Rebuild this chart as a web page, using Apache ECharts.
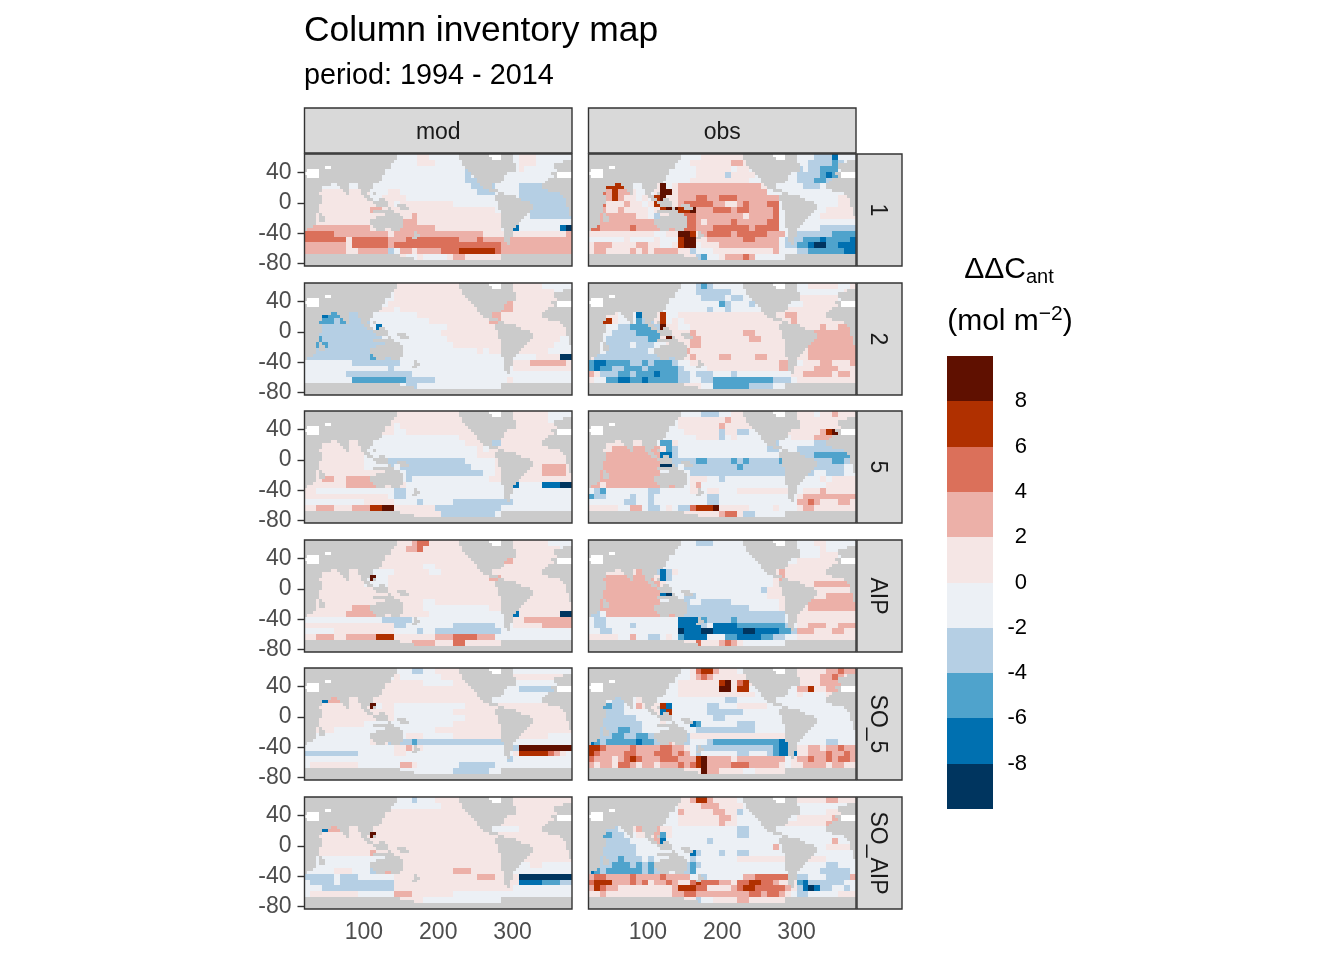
<!DOCTYPE html>
<html>
<head>
<meta charset="utf-8">
<title>Column inventory map</title>
<script src="https://cdn.jsdelivr.net/npm/echarts@6/dist/echarts.min.js"></script>
<style>
html, body { margin: 0; padding: 0; background: #fff; }
#chart { width: 1344px; height: 960px; }
</style>
</head>
<body>
<div id="chart"></div>
<script>
// facets
var dataSources = ['mod', 'obs'];
var basins = ['1', '2', '5', 'AIP', 'SO_5', 'SO_AIP'];

// tick labels
var lonTicks = [100, 200, 300];
var latTicks = [-80, -40, 0, 40];
var legendTicks = [-8, -6, -4, -2, 0, 2, 4, 6, 8];

// colour bins, low to high, and the middle value of each bin
var binValues = [-9, -7, -5, -3, -1, 1, 3, 5, 7, 9];
var binColors = ['#00355f', '#0070b0', '#4fa3cc', '#b5cfe4', '#ecf0f5',
  '#f5e6e5', '#ecb0a8', '#db705a', '#b03000', '#5f1000'];

// ocean grid: 8 degree columns from 20E, rows from the top
var lonStart = 20, lonStep = 8, latTop = 64, latStep = 147 / 19;

// land grid is twice as fine. Each row lists column runs of land, w = no data
var landRuns = [
  "0-30 52-61 w62-65 66-69",
  "0-30 52-62 w63-65 66-69",
  "0-29 53-69 87-89",
  "0-28 53-70 84-89",
  "0-28 w7-8 54-70 84-89",
  "0-26 w1-4 55-70 85-89",
  "5-26 w0-4 56-67 83-84 w85-89",
  "0 5-25 w1-4 57-66 84 w85-89",
  "0-25 58-66 82-89",
  "0-24 58-65 81-89",
  "0-8 11-14 18-22 59-62 80-89",
  "0-5 12-14 18-22 60-62 80-89",
  "0-5 13-14 19-21 62-64 82-89",
  "0-4 14 19-20 23 65-66 86-89",
  "0-5 20-21 64-70 87-89",
  "0-5 21-22 25-26 64-72 88-89",
  "0-5 23-27 65-75 88-89",
  "0-4 24-27 31-33 65-76 88-89",
  "0-4 28 32-34 65-76 89",
  "0-4 23-29 66-75 89",
  "0-3 5 27-31 66-74 89",
  "0-3 5-6 24-32 66-73",
  "0-3 5-6 22-32 66-72",
  "0-3 22-32 66-71",
  "0-2 23-32 66-70",
  "0 24-26 29-31 67-69",
  "37 67-69",
  "37-38 67-69",
  "36-37 67-68",
  "67-68",
  "68",
  "",
  "",
  "",
  "0-31 66-89",
  "0-36 66-89",
  "0-89",
  "0-89"
];

// ocean values per panel as bin index 0-9, land is drawn over them
var mod1 = [
  "44444 44444 44444 44445 54444 44444 44444 45554 44444",
  "44444 44444 44444 44445 55444 44444 44444 45554 44444",
  "44444 44444 44444 44444 44444 44344 44444 45444 44444",
  "44444 44444 44444 44444 44444 44344 44444 44444 44444",
  "44444 44444 44444 44444 44444 44333 44444 44444 44444",
  "44444 44444 44444 44444 44444 44433 33444 43333 33334",
  "55555 55555 54445 54444 44444 44443 33444 43333 33333",
  "55555 55555 54455 55444 44444 44444 44444 43333 33334",
  "55555 55555 55455 45555 55555 44444 44444 44333 33333",
  "55555 55555 56655 55555 55555 55555 55444 44333 33333",
  "55555 55555 55555 55565 55555 55555 55544 44433 33333",
  "65555 55555 55555 56665 55555 55555 55544 44444 44444",
  "66666 66666 65555 56666 66555 55555 55544 14444 44410",
  "77777 66666 66665 66666 66666 66666 55555 55555 55556",
  "77777 77577 77776 66777 77777 76667 66666 66666 66666",
  "66666 66577 77776 77777 77777 77777 77766 66666 66666",
  "66666 66556 66663 46656 66677 78888 88766 66666 66666",
  "55555 55555 55555 55445 44445 66555 55555 55555 55555"
];
var obs1 = [
  "44444 44444 44444 44445 55555 55444 44444 44433 31444",
  "44444 44444 44444 44555 55556 65444 44444 44333 32344",
  "44444 44444 44444 44455 55554 55444 44444 34332 22444",
  "44444 44444 44444 44455 55535 55544 44444 33332 12344",
  "44444 44444 44444 44555 55555 55444 44444 33322 33444",
  "45688 84444 45945 66666 66666 66665 44444 43334 44444",
  "45768 66544 45995 66666 66666 66666 44444 44444 44444",
  "55768 65545 48955 66677 66777 66666 66444 44444 44554",
  "55755 56554 58955 67777 76655 67666 77444 44444 44555",
  "57655 65555 45899 88966 67776 77666 67444 44444 55555",
  "57666 66655 43555 57766 66666 65666 67444 44445 55555",
  "77666 66666 66666 67765 66667 66666 77444 44444 44444",
  "77666 66766 66666 87766 67777 77677 77444 44443 33333",
  "55555 55555 54455 99856 77776 77777 66644 33333 32222",
  "44444 45444 45444 89955 66666 67766 66433 32221 22221",
  "56665 55566 55445 89945 55666 66666 66433 22100 22111",
  "56655 55656 56666 55344 45555 55555 56444 33222 22211",
  "55555 55555 55555 55532 44566 67644 44444 44444 44444"
];
var mod2 = [
  "44444 44444 44444 55555 55555 55555 55555 55555 44444",
  "44444 44444 44444 55555 55555 55555 55555 55555 55444",
  "44444 44444 44444 55555 55555 55555 55555 55555 55555",
  "44444 44444 44445 55555 55555 55555 55566 55555 55555",
  "44444 44444 44555 45555 55555 55555 55566 55555 55555",
  "55412 22333 44444 44445 55555 55555 56655 55555 55555",
  "33222 32333 34444 44444 45555 55555 56655 55555 55555",
  "33333 33333 34144 44444 44445 55555 55555 55555 55555",
  "33333 33333 33444 44444 44455 55555 55555 55555 55554",
  "33233 33333 33344 44444 44445 55555 55555 55555 55544",
  "33223 33333 33333 44444 44444 55555 55555 45555 55444",
  "33333 33333 33333 44444 44444 44445 45555 45555 54444",
  "33333 33333 32233 34444 44444 44444 44444 44445 55500",
  "44444 44433 33333 34444 44444 44444 44444 55566 66665",
  "44444 44444 44443 44444 44444 44444 44444 55555 55555",
  "44444 44333 33333 33344 44444 44444 44444 44444 44444",
  "44444 44422 22222 22333 33444 44444 44445 44444 44444",
  "44444 44444 44444 44334 44444 44444 44444 44444 44444"
];
var obs2 = [
  "44444 44444 44444 44432 34444 44444 44444 44555 55445",
  "44444 44444 44444 44433 33334 44444 44444 44444 44455",
  "44444 44444 44444 44443 33343 34444 44445 55555 55444",
  "44444 44444 44444 44444 44234 44344 44444 45555 55555",
  "44444 44444 44444 44444 34434 44444 44555 55555 55555",
  "55555 44414 55844 55555 55555 55555 55566 55555 55555",
  "55885 44423 35845 45555 55555 55555 55556 55555 55555",
  "54444 33222 23955 44555 55555 55555 55555 55556 55666",
  "44443 33322 22955 55655 55555 56655 55555 55666 66666",
  "44433 33333 22595 55665 55555 55665 55555 56666 66666",
  "44433 33433 34455 55665 55555 55555 55555 56666 66666",
  "55433 33333 44444 56555 55555 55555 55555 45666 66666",
  "53333 33333 33333 55655 55665 55566 55555 55666 66666",
  "21122 22332 32223 44555 55555 55555 55665 45556 65556",
  "21223 32223 22222 34444 55555 55555 55665 55566 66555",
  "65333 22322 21222 33433 34443 44444 44445 56666 65665",
  "54422 11221 22222 33443 32222 22222 23334 55555 55555",
  "55555 55555 55555 55554 42222 22333 34444 55555 55555"
];
var mod5 = [
  "55555 55555 55555 55555 55555 55555 55555 55555 54444",
  "55555 55555 55555 55555 55555 55555 55555 55555 54444",
  "55555 55555 55555 45555 55555 55555 55555 55555 55555",
  "55555 55555 55555 44555 55555 55555 55555 55555 55555",
  "55555 55555 44444 44444 44444 45555 55555 55555 55555",
  "55555 55555 44444 44444 44444 44555 33355 55555 55555",
  "55555 55555 44444 44444 44444 44445 45555 55555 55555",
  "55555 55555 44444 44444 44444 44445 55555 55555 55555",
  "55555 55555 44443 33333 33333 33444 44555 55555 55555",
  "55555 55555 44443 43333 33333 33344 44555 55555 66665",
  "55555 55555 55555 44333 33333 33333 44555 55555 66665",
  "55566 55666 66555 44344 44444 44444 45555 55555 55555",
  "55555 55666 66655 55444 44444 44444 44444 14444 11100",
  "55444 44444 44444 33444 44444 44444 44444 44444 44444",
  "55555 55555 55554 33444 44444 44444 44444 44444 44444",
  "44444 44444 55555 44443 44444 33333 33333 44444 44444",
  "55666 55566 68899 55555 55333 33333 33344 44444 44444",
  "55555 55555 55555 55555 55533 33333 33444 44444 44444"
];
var obs5 = [
  "44444 44444 44444 44443 33445 55544 44445 55545 56555",
  "44444 44444 44444 55555 55565 55555 55555 55555 55555",
  "44444 44444 44444 55555 55655 55555 55555 55555 55555",
  "44444 44444 44444 45555 55355 33444 44555 55556 89655",
  "44444 44444 44444 44455 55345 44444 44445 55566 66555",
  "55555 55556 54225 44444 44444 44444 33444 44433 33334",
  "55556 66666 66523 44444 44444 44444 33444 33333 33333",
  "55566 66666 66113 44444 44444 44444 44444 33322 22223",
  "45666 66666 66003 33322 33332 32333 33222 33333 32233",
  "56666 66666 66003 43333 33333 23333 33323 33333 33344",
  "56666 66666 66444 44333 33333 33333 33333 33344 33344",
  "56666 66666 66666 44555 44344 44444 44444 44445 45555",
  "66566 66666 66666 44564 44444 44444 44444 44444 55555",
  "43244 44444 33444 44554 55444 55555 55555 45556 55555",
  "23344 44344 34444 44444 33444 44444 44444 56666 66666",
  "44444 43344 34444 44444 33444 44444 44444 66765 55665",
  "55555 44664 33454 33788 89555 55444 45444 56655 55555",
  "55555 55555 55555 55555 55677 53344 44444 55555 55555"
];
var modAIP = [
  "55555 55555 55555 55567 75555 55555 55555 55555 54444",
  "55555 55555 55555 55667 55555 55555 55555 55555 55544",
  "55555 55555 55555 55555 55555 55555 55555 55555 55555",
  "55555 55555 55555 55555 55555 55555 55566 55555 55555",
  "55555 55555 55555 55555 44555 55555 55555 55555 55555",
  "55555 55555 44444 55555 54455 55555 55555 55555 55555",
  "55555 55555 49445 55555 55555 55555 56655 55555 55555",
  "55555 55555 44445 55555 55555 55555 55555 55555 55555",
  "55555 55555 55555 55555 55555 55555 55555 55555 55555",
  "55555 55555 55555 55555 55555 55555 55555 55555 55555",
  "55555 55555 55555 55555 44555 55555 55555 55555 55555",
  "55555 55566 65555 55555 44444 44444 45555 55555 55555",
  "55555 55666 66555 55555 54444 44444 44444 15555 55500",
  "44444 44444 44433 33344 44444 44444 44444 55666 66666",
  "55555 55555 55555 33444 44444 33333 33444 55555 66666",
  "44444 55555 55555 44443 44333 33333 33344 44444 44444",
  "55666 55666 66888 55555 55666 77776 66444 44444 44444",
  "55555 55555 55555 55566 66555 77555 55555 55555 55555"
];
var obsAIP = [
  "44444 44444 44444 44433 34444 44444 44444 44455 44444",
  "44444 44444 44444 44444 44444 44444 44444 44445 44444",
  "44444 44444 44444 44444 44444 44444 44444 44445 55444",
  "44444 44444 44444 44444 44444 44443 34444 55555 55555",
  "44444 44444 44444 44444 44444 44444 45655 55555 55555",
  "55555 55566 53135 44444 44444 44444 45655 55555 55555",
  "55666 66666 65134 44444 44444 44444 45655 55555 55555",
  "55566 66666 66544 44444 44444 44444 45555 55566 66665",
  "56666 66666 66144 44444 44444 44443 55555 55555 55555",
  "56666 66666 66104 43344 44444 44444 55555 55555 66666",
  "66666 66666 66444 43443 33334 44444 44555 55666 66666",
  "66666 66666 66666 33333 33333 33444 44555 55666 66666",
  "33466 66666 66666 33333 33333 33333 33345 55555 55555",
  "43344 44444 44444 11112 33332 33333 33344 55555 55555",
  "43344 44344 44444 11113 41111 22222 22234 55666 55666",
  "44334 44444 44444 01110 01111 10011 11223 66655 56655",
  "55555 44644 33454 21111 44422 11112 23344 55555 55555",
  "55555 55555 55555 55575 55676 54444 44444 55555 55555"
];
var modSO5 = [
  "44444 44444 44444 44433 44555 55555 44444 44444 44444",
  "44444 44444 44444 54444 44455 55555 55555 55555 55555",
  "55555 55555 55555 55555 44444 55555 33443 44444 44444",
  "55555 55555 55555 55555 55555 55555 44444 43333 33444",
  "55555 55555 55555 55555 55555 55555 44444 44444 44444",
  "44416 66555 55555 55555 55555 55555 44444 44444 55555",
  "55555 55555 59455 44444 44444 44555 55555 55555 55555",
  "55555 55555 55555 44444 44444 55555 55555 55555 55555",
  "55555 55555 55555 44444 44444 44555 55555 55555 55555",
  "55555 55555 44444 44444 44444 55555 55555 55555 55555",
  "45555 44444 44444 44444 44555 55555 55555 55555 55555",
  "44444 44444 44444 44555 44444 55555 55555 55555 54444",
  "44444 44444 45653 33323 33333 33333 33333 44444 44444",
  "44444 44444 44444 55655 44444 44444 44444 39999 99999",
  "33333 33334 44444 55444 44444 44444 44444 58888 87654",
  "44444 44444 44444 44444 44444 44444 44443 44444 44444",
  "45555 55554 44444 46654 44444 43333 33444 44444 44444",
  "44444 44444 44444 44444 44444 33333 34444 44444 44444"
];
var obsSO5 = [
  "44444 44444 44444 44578 86555 44444 44444 55555 66766",
  "44444 44444 44444 44567 65555 55444 44444 55556 67655",
  "44444 44444 44444 55555 55895 78555 55555 55556 66655",
  "44444 44444 44444 55555 55995 88444 44444 66855 66755",
  "44444 44444 44444 55555 55555 55544 44444 54444 54444",
  "44443 33454 44444 44444 44433 44444 44444 44444 44444",
  "44223 34465 55814 44444 33444 55555 44444 44444 44444",
  "44233 34444 45184 44444 33333 34444 44444 44444 44444",
  "42333 33344 44194 44444 43344 44444 44444 44444 44444",
  "32333 33334 44544 44124 44444 33344 44444 44444 44444",
  "22333 22334 44444 44433 33333 33344 44444 44444 44444",
  "12332 23322 34444 43555 55555 55555 55533 44444 44444",
  "12322 22212 23665 43444 32222 22222 22114 44444 33444",
  "88766 66766 66776 65433 33333 33333 32111 55665 66766",
  "87666 67766 67776 76434 44444 33444 32111 55666 76676",
  "76665 67876 66777 66689 66665 66666 66645 66766 76776",
  "65665 77656 65666 76789 66667 77666 66545 56666 56655",
  "55555 55555 55555 55559 66555 54455 55555 55555 55555"
];
var modSOAIP = [
  "44444 44444 44444 44434 44555 55555 55555 55555 55555",
  "44444 44444 44444 44444 44455 55555 55555 55555 55555",
  "55555 55555 55555 55555 55555 55555 55555 55555 55555",
  "55555 55555 55555 55555 55555 55555 55555 55555 55555",
  "55555 55555 55555 55555 55555 55555 44455 55555 55555",
  "44416 66555 55555 55555 55555 55555 44444 45555 55555",
  "55555 55555 59555 55555 55555 55555 55555 55555 55555",
  "55555 55555 55555 55555 55555 55555 55555 55555 55555",
  "55555 55555 55555 55555 55555 55555 55555 55555 55555",
  "55555 55555 56555 55555 55555 55555 55555 55555 55555",
  "55444 44444 44444 55555 55555 55555 55555 55555 55555",
  "45444 44444 44444 65555 55555 55555 55555 44455 44444",
  "44444 55544 43566 65555 55555 66655 55555 44444 44444",
  "33333 43334 44444 55555 55555 55556 66555 50000 00000",
  "43333 43333 33333 55555 55555 55555 55555 51111 22233",
  "44433 33333 33333 55555 55555 55555 55555 44444 44444",
  "45555 55554 44444 66655 55555 44444 44444 44444 44444",
  "55555 55555 55555 55555 44444 44444 44444 44444 44444"
];
var obsSOAIP = [
  "44444 44444 44444 55688 65555 44444 44444 55555 66555",
  "44444 44444 44444 55556 66555 54444 44444 44444 44444",
  "44444 44444 44444 65555 56655 34444 44444 44444 55555",
  "44444 44444 44444 55555 55665 44444 44444 55555 56655",
  "44444 44444 44444 55555 55655 44444 44555 55555 66555",
  "44333 44565 56554 44444 44444 33444 44444 44444 55555",
  "44223 34455 56254 44444 44444 33444 44444 44444 44444",
  "44233 33444 46144 44444 34444 44444 44444 44444 46444",
  "42333 33344 44444 44444 44444 44444 46444 44444 55555",
  "33333 33344 44444 44134 44344 33444 44444 44444 44444",
  "22333 23334 34444 34344 44444 55555 55555 55555 44444",
  "12332 22323 23444 33234 44444 44444 44444 44444 33444",
  "12322 22223 23444 33244 44444 44444 44444 44443 33334",
  "67766 66766 66766 66443 44444 46677 77777 33444 33336",
  "78886 66767 56676 55787 77665 77887 76555 21333 33344",
  "68766 55555 55556 88877 55556 78877 77765 31013 34434",
  "55655 55555 55556 67766 66666 66776 77654 33444 44555",
  "55555 55555 55555 55534 45555 66555 55555 55555 55555"
];
var panelValues = [
  [mod1, obs1], [mod2, obs2], [mod5, obs5],
  [modAIP, obsAIP], [modSO5, obsSO5], [modSOAIP, obsSOAIP]
];

// page layout
var colLeft = [304.5, 588.5], panelW = 267.5;
var rowTop = [154, 283, 411, 540, 668, 797], panelH = 112;
var stripTop = 108, stripH = 45, stripLeft = 857, stripW = 45;
var font = '"Liberation Sans", Arial, sans-serif';
var landColor = '#cbcbcb', noDataColor = '#fff';

// land cells, third field is the fill
var landData = [];
landRuns.forEach(function (row, r) {
  row.split(' ').forEach(function (run) {
    if (!run) return;
    var blank = run.charAt(0) === 'w';
    var ends = run.replace('w', '').split('-');
    var last = ends.length > 1 ? +ends[1] : +ends[0];
    for (var c = +ends[0]; c <= last; c++) {
      landData.push([lonStart + lonStep / 2 * (c + 0.5), latTop - latStep / 2 * (r + 0.5), blank ? 1 : 0]);
    }
  });
});

function oceanData(rows) {
  var out = [];
  rows.forEach(function (row, r) {
    var cells = row.replace(/ /g, '');
    for (var c = 0; c < cells.length; c++) {
      out.push([lonStart + lonStep * (c + 0.5), latTop - latStep * (r + 0.5), binValues[+cells.charAt(c)]]);
    }
  });
  return out;
}

function binColor(v) {
  return binColors[binValues.indexOf(v)];
}

function renderOcean(params, api) {
  return cellRect(api, lonStep, latStep, binColor(api.value(2)));
}

function renderLand(params, api) {
  return cellRect(api, lonStep / 2, latStep / 2, api.value(2) ? noDataColor : landColor);
}

function cellRect(api, w, h, color) {
  var lon = api.value(0), lat = api.value(1);
  var a = api.coord([lon - w / 2, lat + h / 2]);
  var b = api.coord([lon + w / 2, lat - h / 2]);
  var x = Math.round(a[0]), y = Math.round(a[1]);
  return {
    type: 'rect',
    shape: { x: x, y: y, width: Math.round(b[0]) - x, height: Math.round(b[1]) - y },
    style: { fill: color }
  };
}

var grids = [], xAxes = [], yAxes = [], series = [], graphics = [];

rowTop.forEach(function (top, r) {
  colLeft.forEach(function (left, c) {
    var idx = grids.length;
    var lastRow = r === rowTop.length - 1;
    grids.push({ left: left, top: top, width: panelW, height: panelH, show: false });
    xAxes.push({
      type: 'value', gridIndex: idx, min: 20, max: 380,
      splitLine: { show: false }, axisLine: { show: false },
      axisTick: { show: lastRow, customValues: lonTicks, length: 7, lineStyle: { color: '#333', width: 1.4 } },
      axisLabel: { show: lastRow, customValues: lonTicks, color: '#4d4d4d', fontSize: 23, fontFamily: font, margin: 12 }
    });
    yAxes.push({
      type: 'value', gridIndex: idx, min: -83, max: 64,
      splitLine: { show: false }, axisLine: { show: false },
      axisTick: { show: c === 0, customValues: latTicks, length: 7, lineStyle: { color: '#333', width: 1.4 } },
      axisLabel: { show: c === 0, customValues: latTicks, color: '#4d4d4d', fontSize: 23, fontFamily: font, margin: 13, padding: [7, 0, 0, 0] }
    });
    series.push({
      type: 'custom', xAxisIndex: idx, yAxisIndex: idx, silent: true,
      renderItem: renderOcean, data: oceanData(panelValues[r][c]),
      encode: { x: 0, y: 1 }, animation: false
    });
    series.push({
      type: 'custom', xAxisIndex: idx, yAxisIndex: idx, silent: true,
      renderItem: renderLand, data: landData,
      encode: { x: 0, y: 1 }, animation: false
    });
    graphics.push({
      type: 'rect', z: 100, silent: true,
      shape: { x: left, y: top, width: panelW, height: panelH },
      style: { fill: null, stroke: '#333', lineWidth: 1.4 }
    });
  });
});

// strips along the top and the right side
dataSources.forEach(function (name, c) {
  graphics.push({
    type: 'rect', z: 100, silent: true,
    shape: { x: colLeft[c], y: stripTop, width: panelW, height: stripH },
    style: { fill: '#d9d9d9', stroke: '#333', lineWidth: 1.4 }
  });
  graphics.push({
    type: 'text', z: 101, silent: true,
    x: colLeft[c] + panelW / 2, y: stripTop + stripH / 2 + 2,
    style: { text: name, align: 'center', verticalAlign: 'middle', fill: '#1a1a1a', fontSize: 23, fontFamily: font }
  });
});
basins.forEach(function (name, r) {
  graphics.push({
    type: 'rect', z: 100, silent: true,
    shape: { x: stripLeft, y: rowTop[r], width: stripW, height: panelH },
    style: { fill: '#d9d9d9', stroke: '#333', lineWidth: 1.4 }
  });
  graphics.push({
    type: 'text', z: 101, silent: true, rotation: -Math.PI / 2,
    x: stripLeft + stripW / 2 - 2, y: rowTop[r] + panelH / 2,
    style: { text: name, align: 'center', verticalAlign: 'middle', fill: '#1a1a1a', fontSize: 23, fontFamily: font }
  });
});

// legend title
graphics.push({
  type: 'text', silent: true, x: 1009, y: 270,
  style: {
    text: '\u0394\u0394C{sub|ant}', align: 'center', verticalAlign: 'middle',
    fill: '#000', fontSize: 30, fontFamily: font,
    rich: { sub: { fontSize: 20, fontFamily: font, fill: '#000', padding: [14, 0, 0, 0] } }
  }
});
graphics.push({
  type: 'text', silent: true, x: 1010, y: 322,
  style: {
    text: '(mol m{sup|\u22122})', align: 'center', verticalAlign: 'middle',
    fill: '#000', fontSize: 30, fontFamily: font,
    rich: { sup: { fontSize: 21, fontFamily: font, fill: '#000', padding: [0, 0, 16, 0] } }
  }
});

// colour bar
var legendIdx = grids.length;
grids.push({ left: 947, top: 356, width: 46, height: 453, show: false });
xAxes.push({ type: 'value', gridIndex: legendIdx, min: 0, max: 1, show: false });
yAxes.push({
  type: 'value', gridIndex: legendIdx, min: -10, max: 10, position: 'right',
  splitLine: { show: false }, axisLine: { show: false }, axisTick: { show: false },
  axisLabel: { customValues: legendTicks, color: '#000', fontSize: 22, fontFamily: font, align: 'right', margin: 34, padding: [7, 0, 0, 0] }
});
series.push({
  type: 'custom', xAxisIndex: legendIdx, yAxisIndex: legendIdx, silent: true,
  data: binValues.map(function (v) { return [0, v]; }),
  encode: { x: 0, y: 1 }, animation: false,
  renderItem: function (params, api) {
    var v = api.value(1);
    var a = api.coord([0, v + 1]), b = api.coord([1, v - 1]);
    return {
      type: 'rect',
      shape: { x: a[0], y: Math.round(a[1]), width: b[0] - a[0], height: Math.round(b[1]) - Math.round(a[1]) },
      style: { fill: binColor(v) }
    };
  }
});

var chart = echarts.init(document.getElementById('chart'));
chart.setOption({
  animation: false,
  backgroundColor: '#fff',
  title: [
    { text: 'Column inventory map', left: 304, top: 14, padding: 0,
      textStyle: { fontSize: 35.4, fontWeight: 'normal', color: '#000', fontFamily: font } },
    { text: 'period: 1994 - 2014', left: 304, top: 62, padding: 0,
      textStyle: { fontSize: 28.8, fontWeight: 'normal', color: '#000', fontFamily: font } }
  ],
  grid: grids,
  xAxis: xAxes,
  yAxis: yAxes,
  series: series,
  graphic: graphics
});
</script>
</body>
</html>
